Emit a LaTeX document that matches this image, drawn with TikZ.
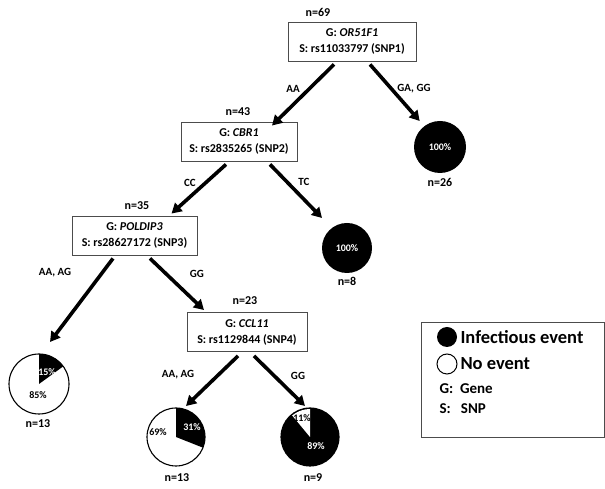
\documentclass[tikz,border=0pt]{standalone}
\usepackage{fontspec}
\setmainfont{Carlito}
\usetikzlibrary{arrows.meta,calc}
\begin{document}
\begin{tikzpicture}[x=1pt,y=1pt,
  font=\bfseries\fontsize{12}{16}\selectfont,
  gbox/.style={draw=black!70, line width=0.9pt, minimum width=#1, minimum height=39pt, align=center, inner sep=1pt, fill=white},
  arr/.style={line width=3.6pt, -{Triangle[length=10pt,width=11pt]}},
  pienode/.style={circle, minimum size=#1, inner sep=0pt},
  rim/.style={draw=black, line width=1.1pt},
  lab/.style={font=\bfseries\fontsize{11}{13}\selectfont},
  ptxt/.style={font=\bfseries\fontsize{10}{12}\selectfont},
  wtxt/.style={ptxt, text=white},
  cnt/.style={font=\bfseries\fontsize{12}{14}\selectfont},
  leg/.style={font=\bfseries\fontsize{18.5}{20}\selectfont, anchor=west},
  legs/.style={font=\bfseries\fontsize{15}{17}\selectfont, anchor=west},
]
\useasboundingbox (0,0) rectangle (605,489);

% boxes
\node[gbox=128pt] (b1) at (352,447.5) {G: \textit{OR51F1}\\S: rs11033797 (SNP1)};
\node[gbox=116pt] (b2) at (239,347.5) {G: \textit{CBR1}\\S: rs2835265 (SNP2)};
\node[gbox=125pt] (b3) at (134.5,253.5) {G: \textit{POLDIP3}\\S: rs28627172 (SNP3)};
\node[gbox=120pt] (b4) at (247,157) {G: \textit{CCL11}\\S: rs1129844 (SNP4)};

\node[cnt] (n69) at (318,477) {n=69};
\node[cnt] (n43) at (238,377) {n=43};
\node[cnt] (n35) at (137,283) {n=35};
\node[cnt] (n23) at (245,188) {n=23};

% pies
\node[pienode=52pt] (p26) at (440,342) {};
\fill (p26.center) circle[radius=26];
\node[wtxt] (t26) at (p26.center) {100\%};
\node[cnt] (n26) at (440,307) {n=26};

\node[pienode=50pt] (p8) at (347,241) {};
\fill (p8.center) circle[radius=25];
\node[wtxt] (t8) at (p8.center) {100\%};
\node[cnt] (n8) at (347,208) {n=8};

\node[pienode=60pt] (pL) at (39,105) {};
\fill (pL.center) -- ($(pL.center)+(90:30)$) arc[start angle=90, end angle=36, radius=30] -- cycle;
\draw[rim] (pL.center) circle[radius=30];
\node[wtxt] (tL1) at (47,117) {15\%};
\node[ptxt] (tL2) at (38,94) {85\%};
\node[cnt] (nL) at (38,65) {n=13};

\node[pienode=58pt] (pLL) at (176,52) {};
\fill (pLL.center) -- ($(pLL.center)+(90:29)$) arc[start angle=90, end angle=-21.6, radius=29] -- cycle;
\draw[rim] (pLL.center) circle[radius=29];
\node[wtxt] (tLL1) at (192,62) {31\%};
\node[ptxt] (tLL2) at (158,57) {69\%};
\node[cnt] (nLL) at (177,11) {n=13};

\node[pienode=58pt] (pLR) at (310,52) {};
\fill (pLR.center) circle[radius=29];
\fill[white] (pLR.center) -- ($(pLR.center)+(90:28)$) arc[start angle=90, end angle=129.6, radius=28] -- cycle;
\draw[rim] (pLR.center) circle[radius=29];
\node[ptxt] (tLR1) at (302,71) {11\%};
\node[wtxt] (tLR2) at (316,43) {89\%};
\node[cnt] (nLR) at (313,11) {n=9};

% arrows
\draw[arr] ($(b1.south)+(-18,-3)$) -- ($(b2.north)+(33,-4)$);
\draw[arr] ($(b1.south)+(18,-3)$) -- ($(p26.center)+(128:33)$);
\draw[arr] ($(b2.south)+(-13,-3)$) -- ($(b3.north)+(37,2)$);
\draw[arr] ($(b2.south)+(31,-3)$) -- ($(p8.center)+(-25,30)$);
\draw[arr] ($(b3.south)+(-21.5,-3)$) -- ($(pL.center)+(11,42)$);
\draw[arr] ($(b3.south)+(15.5,-3)$) -- ($(b4.north)+(-43,2)$);
\draw[arr] ($(b4.south)+(-9,-4)$) -- ($(pLL.center)+(10,31)$);
\draw[arr] ($(b4.south)+(7,-4)$) -- ($(pLR.center)+(-5,31)$);

% edge labels
\node[lab] (e1) at (293,400) {AA};
\node[lab] (e2) at (414,400) {GA, GG};
\node[lab] (e3) at (190,306) {CC};
\node[lab] (e4) at (304,307) {TC};
\node[lab] (e5) at (55,216) {AA, AG};
\node[lab] (e6) at (197,215) {GG};
\node[lab] (e7) at (178,114) {AA, AG};
\node[lab] (e8) at (298,113) {GG};

% legend
\draw[draw=black!70, line width=0.9pt] (421,52) rectangle (604,167);
\fill (447,152) circle[radius=10];
\node[leg] (l1) at (457,152) {Infectious event};
\draw[line width=1pt] (447,125) circle[radius=10];
\node[leg] (l2) at (457,125) {No event};
\node[legs] (l3) at (436,100) {G:\ \ Gene};
\node[legs] (l4) at (436,80) {S:\ \ \ SNP};
\end{tikzpicture}
\end{document}
